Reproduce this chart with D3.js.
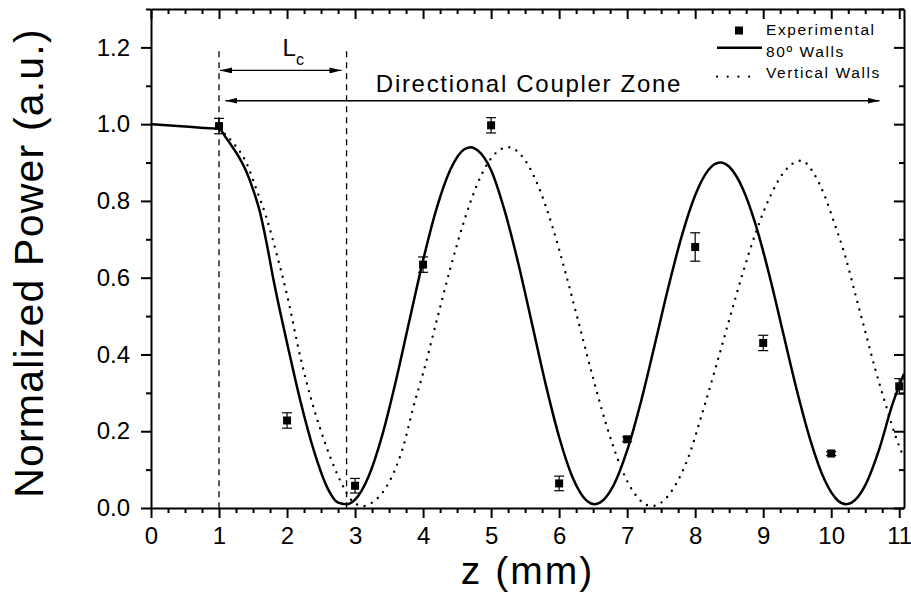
<!DOCTYPE html>
<html>
<head>
<meta charset="utf-8">
<script src="https://cdn.jsdelivr.net/npm/d3@7"></script>
<style>
  body { margin: 0; background: #fff; }
  svg text { font-family: "Liberation Sans", Arial, sans-serif; fill: #000; }
</style>
</head>
<body>
<svg id="chart" width="911" height="593"></svg>
<script>
// values
const xTicks = [0, 1, 2, 3, 4, 5, 6, 7, 8, 9, 10, 11];
const yTicks = [0, 0.2, 0.4, 0.6, 0.8, 1.0, 1.2];

const expZ = [1, 2, 3, 4, 5, 6, 7, 8, 9, 10, 11];
const expP = [0.995, 0.228, 0.058, 0.634, 0.997, 0.064, 0.179, 0.68, 0.43, 0.142, 0.317];
const expErr = [0.02, 0.02, 0.019, 0.02, 0.02, 0.019, 0.006, 0.037, 0.02, 0.005, 0.02];

const walls80 = [
  [0, 1.0], [0.5, 0.994], [0.9, 0.989], [1.0, 0.988], [1.1, 0.965], [1.2, 0.94], [1.3, 0.912], [1.4, 0.877], [1.5, 0.83],
  [1.6, 0.772], [1.7, 0.69], [1.8, 0.595], [1.9, 0.51], [2.0, 0.43], [2.2, 0.276], [2.4, 0.146],
  [2.6, 0.05], [2.75, 0.014], [2.87, 0.01], [3.0, 0.022], [3.2, 0.083], [3.4, 0.19], [3.6, 0.331],
  [3.8, 0.489], [4.0, 0.645], [4.2, 0.781], [4.4, 0.881], [4.6, 0.934], [4.7, 0.94], [4.8, 0.932],
  [5.0, 0.88], [5.2, 0.774], [5.4, 0.637], [5.6, 0.481], [5.8, 0.324], [6.0, 0.185], [6.2, 0.079],
  [6.4, 0.02], [6.52, 0.01], [6.6, 0.014], [6.8, 0.059], [7.0, 0.15], [7.2, 0.275], [7.4, 0.421],
  [7.6, 0.571], [7.8, 0.707], [8.0, 0.815], [8.2, 0.882], [8.37, 0.9], [8.5, 0.889], [8.7, 0.832],
  [8.9, 0.732], [9.1, 0.6], [9.3, 0.451], [9.5, 0.303], [9.7, 0.173], [9.9, 0.074], [10.1, 0.019],
  [10.22, 0.01], [10.3, 0.014], [10.5, 0.059], [10.7, 0.15], [10.9, 0.27], [11.07, 0.35]
];

const wallsVertical = [
  [1.0, 0.988], [1.2, 0.953], [1.4, 0.9], [1.55, 0.83], [1.7, 0.755], [1.85, 0.66], [2.0, 0.555],
  [2.2, 0.39], [2.36, 0.28], [2.5, 0.2], [2.63, 0.135], [2.8, 0.065], [2.95, 0.02], [3.115, 0.005],
  [3.25, 0.014], [3.46, 0.055], [3.7, 0.155], [3.875, 0.275], [4.0, 0.351], [4.2, 0.488], [4.4, 0.624],
  [4.6, 0.746], [4.8, 0.845], [5.0, 0.911], [5.25, 0.94], [5.5, 0.906], [5.7, 0.836], [5.9, 0.734],
  [6.1, 0.609], [6.3, 0.474], [6.5, 0.338], [6.7, 0.213], [6.9, 0.11], [7.1, 0.04], [7.36, 0.005],
  [7.5, 0.014], [7.7, 0.057], [7.9, 0.132], [8.1, 0.245], [8.3, 0.365], [8.5, 0.49], [8.7, 0.612],
  [8.9, 0.722], [9.1, 0.811], [9.3, 0.874], [9.56, 0.905], [9.75, 0.87], [9.9, 0.815], [10.05, 0.74],
  [10.2, 0.66], [10.35, 0.56], [10.5, 0.46], [10.65, 0.36], [10.8, 0.27], [10.95, 0.185], [11.07, 0.13]
];

// annotation positions (data units)
const couplerStart = 1, lcEnd = 2.875, guideTop = 1.19;

const svg = d3.select("#chart");
const margin = {top: 9, right: 7, bottom: 85, left: 151};
const w = 911 - margin.left - margin.right;
const h = 593 - margin.top - margin.bottom;
const g = svg.append("g").attr("transform", `translate(${margin.left},${margin.top})`);

const x = d3.scaleLinear().domain([0, 11.07]).range([0, w]);
const y = d3.scaleLinear().domain([0, 1.3]).range([h, 0]);

const xMinor = d3.range(0, 11.01, 0.25).filter(d => d % 1 !== 0);
const yMinor = d3.range(0.1, 1.31, 0.2);

function styleAxis(sel, labels) {
  sel.attr("font-family", null).attr("font-size", null);
  sel.selectAll("path").attr("stroke-width", 2);
  sel.selectAll("line").attr("stroke-width", 2);
  if (labels) sel.selectAll("text").style("font-size", "24px");
  else sel.selectAll("text").remove();
}

// bottom / left, ticks outward
g.append("g").attr("transform", `translate(0,${h})`)
  .call(d3.axisBottom(x).tickValues(xTicks).tickSize(10).tickSizeOuter(0).tickPadding(9).tickFormat(d3.format("d")))
  .call(s => styleAxis(s, true));
g.append("g").attr("transform", `translate(0,${h})`)
  .call(d3.axisBottom(x).tickValues(xMinor).tickSize(5).tickFormat(""))
  .call(s => { styleAxis(s, false); s.select(".domain").remove(); });
g.append("g")
  .call(d3.axisLeft(y).tickValues(yTicks).tickSize(10).tickSizeOuter(0).tickPadding(11).tickFormat(d3.format(".1f")))
  .call(s => styleAxis(s, true));
g.append("g")
  .call(d3.axisLeft(y).tickValues(yMinor).tickSize(5).tickFormat(""))
  .call(s => { styleAxis(s, false); s.select(".domain").remove(); });

// top / right mirror, ticks inward
g.append("g")
  .call(d3.axisTop(x).tickValues(xTicks).tickSize(-10).tickSizeOuter(0).tickFormat(""))
  .call(s => styleAxis(s, false));
g.append("g")
  .call(d3.axisTop(x).tickValues(xMinor).tickSize(-5).tickFormat(""))
  .call(s => { styleAxis(s, false); s.select(".domain").remove(); });
g.append("g").attr("transform", `translate(${w},0)`)
  .call(d3.axisRight(y).tickValues(yTicks).tickSize(-10).tickSizeOuter(0).tickFormat(""))
  .call(s => styleAxis(s, false));
g.append("g").attr("transform", `translate(${w},0)`)
  .call(d3.axisRight(y).tickValues(yMinor).tickSize(-5).tickFormat(""))
  .call(s => { styleAxis(s, false); s.select(".domain").remove(); });

// axis titles
svg.append("text")
  .attr("x", margin.left + w / 2).attr("y", 584)
  .attr("text-anchor", "middle")
  .style("font-size", "39px").style("letter-spacing", "2px")
  .text("z (mm)");
svg.append("text")
  .attr("transform", `translate(43,${263}) rotate(-90)`)
  .attr("text-anchor", "middle")
  .style("font-size", "41px").style("letter-spacing", "1.2px")
  .text("Normalized Power (a.u.)");

// curves
const line = d3.line().x(d => x(d[0])).y(d => y(d[1])).curve(d3.curveMonotoneX);

g.append("path").datum(wallsVertical)
  .attr("fill", "none").attr("stroke", "#000").attr("stroke-width", 2.4)
  .attr("stroke-linecap", "round").attr("stroke-dasharray", "0,7.8")
  .attr("d", line);

g.append("path").datum(walls80)
  .attr("fill", "none").attr("stroke", "#000").attr("stroke-width", 2.5)
  .attr("d", line);

// guide lines
g.selectAll(".guide").data([couplerStart, lcEnd]).join("line")
  .attr("class", "guide")
  .attr("x1", d => x(d)).attr("x2", d => x(d))
  .attr("y1", y(guideTop)).attr("y2", y(0))
  .attr("stroke", "#000").attr("stroke-width", 1.3).attr("stroke-dasharray", "6,5");

// arrows
const defs = svg.append("defs");
defs.append("marker").attr("id", "arrow")
  .attr("viewBox", "0 0 12 6").attr("refX", 12).attr("refY", 3)
  .attr("markerWidth", 12).attr("markerHeight", 6)
  .attr("markerUnits", "userSpaceOnUse").attr("orient", "auto-start-reverse")
  .append("path").attr("d", "M0,0L12,3L0,6Z").attr("fill", "#000");

const arrows = [
  {from: 1.0, to: 2.8, level: 1.14},
  {from: 1.08, to: 10.71, level: 1.061}
];
g.selectAll(".arrow").data(arrows).join("line")
  .attr("class", "arrow")
  .attr("x1", d => x(d.from) + 1).attr("x2", d => x(d.to))
  .attr("y1", d => y(d.level)).attr("y2", d => y(d.level))
  .attr("stroke", "#000").attr("stroke-width", 1.3)
  .attr("marker-start", "url(#arrow)").attr("marker-end", "url(#arrow)");

const lc = g.append("text").attr("x", x(1.935)).attr("y", y(1.178)).style("font-size", "24px");
lc.append("tspan").text("L");
lc.append("tspan").attr("dy", 9).style("font-size", "16px").text("c");

g.append("text")
  .attr("x", x(5.557)).attr("y", y(1.084))
  .attr("text-anchor", "middle")
  .style("font-size", "24px").style("letter-spacing", "1.7px")
  .text("Directional Coupler Zone");

// experimental points with error bars
const exp = expZ.map((z, i) => ({z: z, p: expP[i], e: expErr[i]}));
const pts = g.append("g").selectAll("g").data(exp).join("g");
pts.append("line")
  .attr("x1", d => x(d.z)).attr("x2", d => x(d.z))
  .attr("y1", d => y(d.p + d.e)).attr("y2", d => y(d.p - d.e))
  .attr("stroke", "#000").attr("stroke-width", 1.2);
[1, -1].forEach(sgn => {
  pts.append("line")
    .attr("x1", d => x(d.z) - 5).attr("x2", d => x(d.z) + 5)
    .attr("y1", d => y(d.p + sgn * d.e)).attr("y2", d => y(d.p + sgn * d.e))
    .attr("stroke", "#000").attr("stroke-width", 1.2);
});
pts.append("rect")
  .attr("x", d => x(d.z) - 4).attr("y", d => y(d.p) - 4)
  .attr("width", 8).attr("height", 8).attr("fill", "#000");

// legend
const legend = svg.append("g");
const legendItems = [
  {name: "Experimental", type: "square", ty: 35, sy: 30.5},
  {name: "80º Walls", type: "solid", ty: 57, sy: 47.7},
  {name: "Vertical Walls", type: "dotted", ty: 78, sy: 76.7}
];
legendItems.forEach(d => {
  if (d.type === "square") {
    legend.append("rect").attr("x", 735).attr("y", d.sy - 4).attr("width", 8).attr("height", 8).attr("fill", "#000");
  } else {
    legend.append("line").attr("x1", 717).attr("x2", d.type === "solid" ? 762 : 756)
      .attr("y1", d.sy).attr("y2", d.sy).attr("stroke", "#000")
      .attr("stroke-width", d.type === "solid" ? 2.5 : 2.2)
      .attr("stroke-linecap", d.type === "solid" ? "butt" : "round")
      .attr("stroke-dasharray", d.type === "solid" ? null : "0,10.7");
  }
  legend.append("text").attr("x", 766).attr("y", d.ty)
    .style("font-size", "15.5px").style("letter-spacing", "1.6px")
    .text(d.name);
});
</script>
</body>
</html>
